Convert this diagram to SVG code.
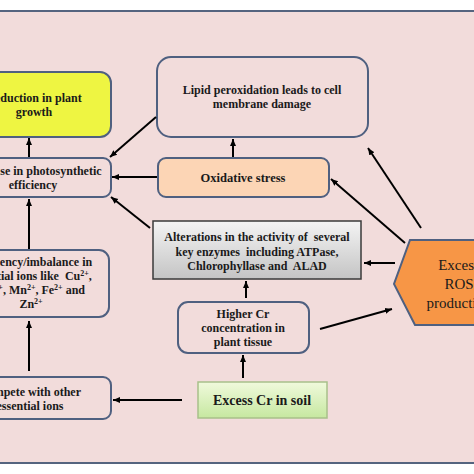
<svg xmlns="http://www.w3.org/2000/svg" width="474" height="474" viewBox="0 0 474 474">
<defs>
<linearGradient id="gGray" x1="0" y1="0" x2="0" y2="1"><stop offset="0" stop-color="#f4f4f4"/><stop offset="1" stop-color="#c4c4c4"/></linearGradient>
<linearGradient id="gGreen" x1="0" y1="0" x2="0" y2="1"><stop offset="0" stop-color="#f0fadc"/><stop offset="1" stop-color="#c6e8a0"/></linearGradient>
<marker id="ah" markerWidth="8" markerHeight="8" refX="7" refY="4" orient="auto" markerUnits="userSpaceOnUse"><path d="M0,1 L7,4 L0,7 Z" fill="#000"/></marker>
<style>
.box{stroke:#4f6080;stroke-width:2;fill:#f2dcdb}
.t{font-family:"Liberation Serif","Times New Roman",serif;font-weight:bold;font-size:12px;fill:#1a1a1a;text-anchor:middle;white-space:pre}
.c line{stroke:#000;stroke-width:2;marker-end:url(#ah)}
</style>
</defs>
<rect x="0" y="0" width="474" height="474" fill="#ffffff"/>
<rect x="-2" y="11" width="478" height="452" fill="#f2dcdb" stroke="#55647f" stroke-width="2"/>

<g id="growth">
<rect x="-45" y="72" width="156" height="65" rx="11" fill="#eef542" stroke="#4f6080" stroke-width="2"/>
<text class="t" x="34" y="102">Reduction in plant</text>
<text class="t" x="34" y="116">growth</text>
</g>
<g id="photo">
<rect class="box" x="-45" y="158" width="156" height="39" rx="8"/>
<text class="t" x="33" y="175">Decrease in photosynthetic</text>
<text class="t" x="33" y="189">efficiency</text>
</g>
<g id="lipid">
<rect class="box" x="157" y="57" width="211" height="80" rx="14"/>
<text class="t" x="262" y="94">Lipid peroxidation leads to cell</text>
<text class="t" x="262" y="108">membrane damage</text>
</g>
<g id="oxidative">
<rect x="158" y="158" width="171" height="39" rx="8" fill="#fcd5b5" stroke="#4f6080" stroke-width="2"/>
<text class="t" x="243" y="182" style="font-size:12.5px">Oxidative stress</text>
</g>
<g id="enzymes">
<rect x="153" y="221" width="208" height="58" fill="url(#gGray)" stroke="#3a3a3a" stroke-width="1.5"/>
<text class="t" x="257" y="241">Alterations in the activity of  several</text>
<text class="t" x="257" y="256">key enzymes  including ATPase,</text>
<text class="t" x="257" y="270">Chlorophyllase and  ALAD</text>
</g>
<g id="deficiency">
<rect class="box" x="-45" y="250" width="154" height="67" rx="10"/>
<text class="t" x="31" y="266">Deficiency/imbalance in</text>
<text class="t" x="31" y="280">essential ions like  Cu<tspan baseline-shift="super" font-size="8">2+</tspan>,</text>
<text class="t" x="31" y="294">Mg<tspan baseline-shift="super" font-size="8">2+</tspan>, Mn<tspan baseline-shift="super" font-size="8">2+</tspan>, Fe<tspan baseline-shift="super" font-size="8">2+</tspan> and</text>
<text class="t" x="31" y="308">Zn<tspan baseline-shift="super" font-size="8">2+</tspan></text>
</g>
<g id="higher">
<rect class="box" x="178" y="302" width="131" height="51" rx="10"/>
<text class="t" x="243" y="318">Higher Cr</text>
<text class="t" x="243" y="332">concentration in</text>
<text class="t" x="243" y="346">plant tissue</text>
</g>
<g id="compete">
<rect class="box" x="-45" y="377" width="156" height="42" rx="8"/>
<text class="t" x="30" y="396">Compete with other</text>
<text class="t" x="30" y="410">essential ions</text>
</g>
<g id="soil">
<rect x="198" y="382" width="129" height="36" fill="url(#gGreen)" stroke="#a8c08a" stroke-width="1.5"/>
<text class="t" x="262" y="405" style="font-size:14px">Excess Cr in soil</text>
</g>
<g id="ros">
<polygon points="410,240 480,240 480,325 415,325 394,284" fill="#f79646" stroke="#4f6080" stroke-width="2"/>
<text x="459" y="270" style="font-family:'Liberation Serif','Times New Roman',serif;font-size:15px;fill:#1a1a1a;text-anchor:middle">Excess</text>
<text x="459" y="289" style="font-family:'Liberation Serif','Times New Roman',serif;font-size:15px;fill:#1a1a1a;text-anchor:middle">ROS</text>
<text x="459" y="308" style="font-family:'Liberation Serif','Times New Roman',serif;font-size:15px;fill:#1a1a1a;text-anchor:middle">production</text>
</g>

<g class="c" id="connectors">
<line x1="29" y1="157" x2="29" y2="138"/>
<line x1="156" y1="117" x2="110" y2="157"/>
<line x1="233" y1="157" x2="233" y2="139"/>
<line x1="157" y1="177" x2="112" y2="177"/>
<line x1="150" y1="228" x2="111" y2="197"/>
<line x1="29" y1="249" x2="29" y2="199"/>
<line x1="246" y1="298" x2="246" y2="281"/>
<line x1="243" y1="378" x2="243" y2="355"/>
<line x1="182" y1="400" x2="113" y2="400"/>
<line x1="29" y1="371" x2="29" y2="321"/>
<line x1="421" y1="228" x2="368" y2="148"/>
<line x1="405" y1="243" x2="331" y2="179"/>
<line x1="395" y1="263" x2="364" y2="263"/>
<line x1="320" y1="329" x2="392" y2="309"/>
</g>
</svg>
